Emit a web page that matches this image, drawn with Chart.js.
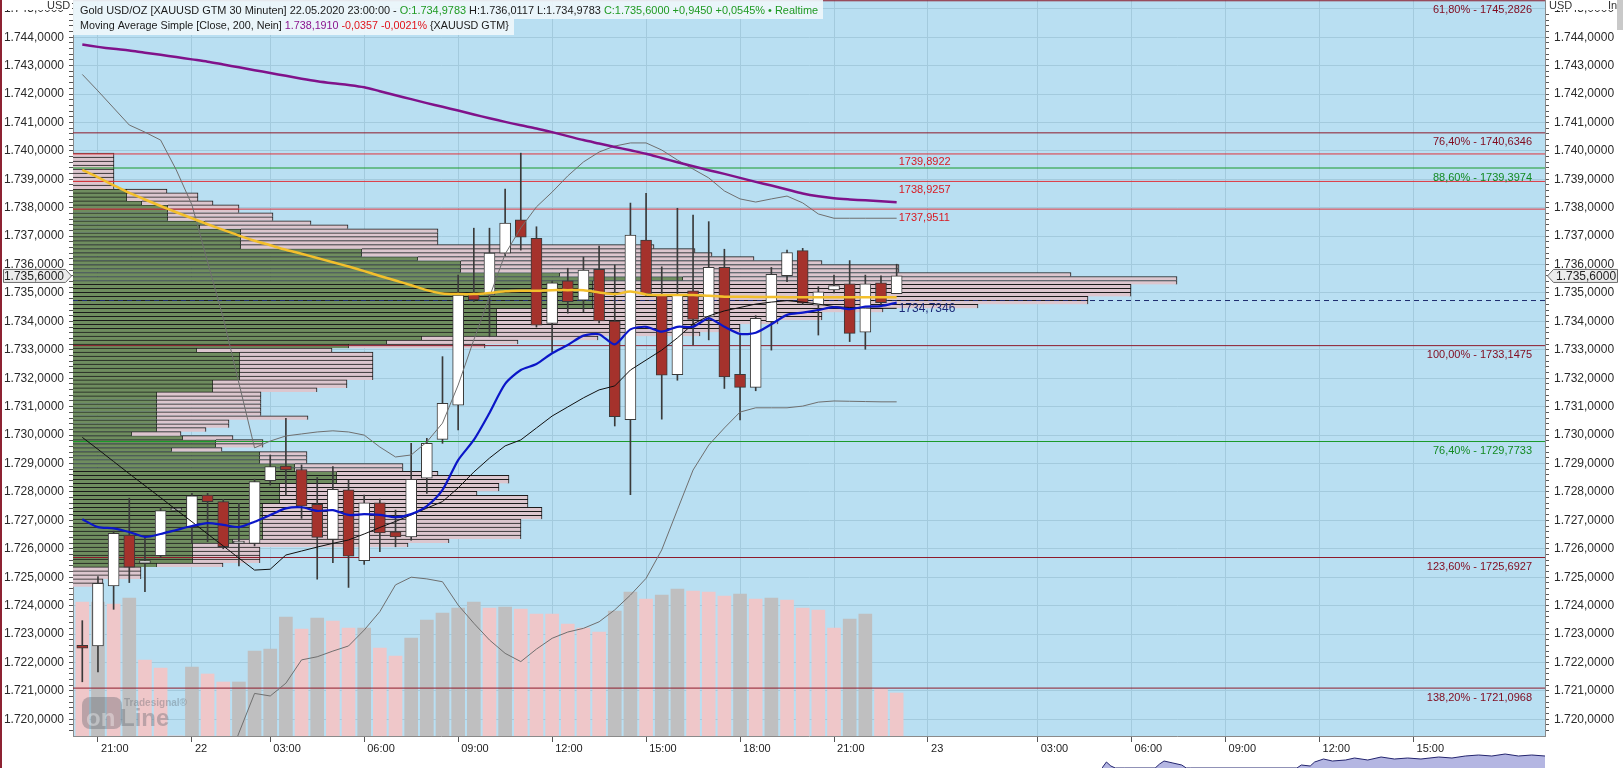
<!DOCTYPE html>
<html>
<head>
<meta charset="utf-8">
<script src="https://cdn.jsdelivr.net/npm/chart.js@4.4.1/dist/chart.umd.min.js"></script>
<style>
  html, body { margin: 0; padding: 0; background: #fff; overflow: hidden; }
  #wrap { width: 1623px; height: 768px; position: relative; }
  #navWrap { position: absolute; left: 1102px; top: 752px; width: 443px; height: 16px; }
</style>
</head>
<body>
<div id="wrap"><canvas id="chart"></canvas><div id="navWrap"><canvas id="nav"></canvas></div></div>
<script>
// 30 minute candles, index 0 = 21.05. 20:30 ... index 52 = 22.05. 23:00
const candleOpen  = [1722.60,1722.58,1724.69,1726.48,1725.49,1725.76,1727.36,1726.78,1727.89,1727.66,1726.20,1726.19,1728.40,1728.91,1728.79,1727.56,1726.33,1728.07,1725.58,1727.62,1726.60,1726.42,1728.48,1729.85,1731.05,1734.95,1734.93,1736.40,1737.57,1736.92,1733.93,1735.43,1734.75,1735.83,1734.01,1730.54,1736.86,1734.93,1732.13,1735.08,1734.16,1735.90,1732.14,1731.68,1733.99,1735.61,1736.49,1734.57,1735.11,1735.32,1733.62,1735.36,1734.9783];
const candleHigh  = [1723.47,1725.02,1726.62,1727.78,1726.42,1727.46,1727.42,1727.95,1727.95,1727.74,1727.60,1728.45,1729.30,1730.59,1728.95,1728.51,1728.89,1728.42,1727.89,1727.75,1727.36,1729.71,1729.89,1732.76,1735.63,1737.28,1737.28,1738.66,1739.92,1737.33,1735.40,1735.87,1736.26,1736.65,1735.98,1738.16,1738.51,1735.92,1737.98,1737.74,1737.51,1736.54,1733.58,1734.20,1735.90,1736.51,1736.57,1735.22,1735.63,1736.14,1735.63,1735.60,1736.0117];
const candleLow   = [1721.32,1721.67,1723.87,1724.81,1724.49,1725.70,1727.30,1726.19,1726.25,1726.00,1725.40,1726.10,1728.24,1727.89,1727.07,1724.93,1725.51,1724.64,1725.45,1725.90,1726.07,1726.30,1727.95,1729.71,1730.18,1734.70,1733.46,1736.30,1736.51,1733.80,1732.93,1734.29,1734.34,1733.95,1730.32,1727.90,1734.90,1730.56,1731.93,1733.17,1733.35,1731.64,1730.53,1731.56,1732.99,1735.40,1734.60,1733.52,1735.00,1733.29,1733.02,1734.60,1734.9783];
const candleClose = [1722.50,1724.78,1726.54,1725.35,1725.58,1727.34,1727.36,1727.86,1727.66,1726.07,1726.20,1728.36,1728.89,1728.77,1727.50,1726.40,1728.09,1725.74,1727.62,1726.56,1726.42,1728.44,1729.71,1731.12,1734.93,1734.76,1736.40,1737.46,1736.96,1733.87,1735.36,1734.69,1735.81,1734.02,1730.65,1737.04,1734.98,1732.11,1734.93,1734.07,1735.90,1732.05,1731.68,1734.11,1735.66,1736.42,1734.64,1735.04,1735.26,1733.58,1735.32,1734.655,1735.60];

const volume   = [134,134,132,138,76,68,0,69,62,54,54,85,87,119,107,118,115,108,108,88,80,98,116,123,128,134,128,129,127,122,122,112,108,104,125,144,137,141,147,145,144,140,142,137,138,136,128,126,108,117,122,47,43];
const volumeUp = [0,1,0,1,0,0,0,1,0,0,1,1,1,1,0,1,0,0,1,0,0,1,1,1,1,1,0,1,0,0,0,0,0,0,1,1,0,1,1,0,0,0,1,0,1,0,0,0,0,1,1,0,0];

const sma200 = [1743.74,1743.66,1743.59,1743.53,1743.45,1743.38,1743.30,1743.22,1743.14,1743.04,1742.94,1742.84,1742.74,1742.64,1742.54,1742.45,1742.38,1742.32,1742.24,1742.10,1741.96,1741.82,1741.68,1741.55,1741.42,1741.28,1741.15,1741.02,1740.90,1740.79,1740.66,1740.52,1740.38,1740.26,1740.14,1740.02,1739.90,1739.75,1739.60,1739.46,1739.32,1739.19,1739.05,1738.91,1738.78,1738.64,1738.50,1738.40,1738.33,1738.29,1738.26,1738.2267,1738.191];
const maSlow = [1739.33,1739.07,1738.79,1738.52,1738.29,1738.06,1737.84,1737.63,1737.42,1737.22,1737.02,1736.84,1736.68,1736.52,1736.38,1736.23,1736.08,1735.93,1735.77,1735.60,1735.44,1735.27,1735.10,1734.98,1734.96,1734.96,1735.00,1735.06,1735.08,1735.08,1735.10,1735.10,1735.10,1735.02,1734.96,1735.05,1734.95,1734.93,1734.93,1734.93,1734.90,1734.87,1734.87,1734.86,1734.86,1734.85,1734.85,1734.85,1734.85,1734.85,1734.85,1734.85,1734.85];
const maFast = [1727.04,1726.76,1726.72,1726.59,1726.42,1726.52,1726.66,1726.80,1726.90,1726.84,1726.76,1726.95,1727.19,1727.42,1727.46,1727.33,1727.36,1727.19,1727.22,1727.19,1727.11,1727.22,1727.50,1728.07,1729.12,1729.83,1730.78,1731.80,1732.29,1732.50,1732.88,1733.17,1733.50,1733.55,1733.19,1733.72,1733.81,1733.64,1733.81,1733.81,1734.11,1733.81,1733.56,1733.60,1733.90,1734.23,1734.31,1734.40,1734.50,1734.43,1734.52,1734.54,1734.66];
const bandMid = [1729.92,1729.50,1729.07,1728.64,1728.22,1727.80,1727.37,1726.95,1726.52,1726.10,1725.67,1725.25,1725.28,1725.78,1725.92,1726.06,1726.19,1726.31,1726.52,1726.75,1726.96,1727.19,1727.43,1727.66,1728.14,1728.70,1729.19,1729.62,1729.83,1730.25,1730.67,1730.99,1731.31,1731.59,1731.73,1732.29,1732.64,1732.99,1733.42,1733.91,1734.19,1734.37,1734.49,1734.61,1734.68,1734.73,1734.68,1734.61,1734.52,1734.49,1734.47,1734.46,1734.46];
const bandUpper = [1742.69,1742.11,1741.51,1740.91,1740.66,1740.38,1739.33,1738.10,1736.09,1734.12,1731.83,1729.55,1729.79,1729.97,1730.04,1730.11,1730.15,1730.11,1730.00,1729.58,1729.23,1729.30,1729.76,1730.42,1731.76,1733.35,1734.86,1736.37,1737.29,1738.03,1738.55,1739.12,1739.61,1739.96,1740.17,1740.28,1740.28,1740.03,1739.68,1739.36,1739.05,1738.59,1738.31,1738.20,1738.31,1738.41,1738.17,1737.78,1737.63,1737.63,1737.63,1737.63,1737.63];
const bandLower = [1717.15,1716.89,1716.63,1716.38,1715.78,1715.21,1715.42,1715.80,1716.96,1718.08,1719.52,1720.91,1720.82,1721.27,1722.09,1722.20,1722.40,1722.58,1723.14,1723.79,1724.73,1725.00,1724.94,1724.84,1724.02,1723.38,1722.79,1722.32,1722.03,1722.47,1722.85,1723.07,1723.20,1723.43,1723.85,1724.37,1724.96,1725.96,1727.37,1728.77,1729.65,1730.25,1730.81,1730.96,1730.96,1730.96,1731.02,1731.16,1731.20,1731.19,1731.18,1731.17,1731.17];

// volume profile rows (price level, buy part, total)
const profileLevel = [1739.85,1739.71,1739.57,1739.43,1739.29,1739.15,1739.01,1738.87,1738.73,1738.59,1738.45,1738.31,1738.17,1738.03,1737.89,1737.75,1737.61,1737.47,1737.33,1737.19,1737.05,1736.91,1736.77,1736.63,1736.49,1736.35,1736.21,1736.07,1735.93,1735.79,1735.65,1735.51,1735.37,1735.23,1735.09,1734.95,1734.81,1734.67,1734.53,1734.39,1734.25,1734.11,1733.97,1733.83,1733.69,1733.55,1733.41,1733.27,1733.13,1732.99,1732.85,1732.71,1732.57,1732.43,1732.29,1732.15,1732.01,1731.87,1731.73,1731.59,1731.45,1731.31,1731.17,1731.03,1730.89,1730.75,1730.61,1730.47,1730.33,1730.19,1730.05,1729.91,1729.77,1729.63,1729.49,1729.35,1729.21,1729.07,1728.93,1728.79,1728.65,1728.51,1728.37,1728.23,1728.09,1727.95,1727.81,1727.67,1727.53,1727.39,1727.25,1727.11,1726.97,1726.83,1726.69,1726.55,1726.41,1726.27,1726.13,1725.99,1725.85,1725.71,1725.57,1725.43,1725.29,1725.15,1725.01,1724.87,1724.73];
const profileGreen = [0,0,0,0,0,0,0,0,0,54,54,54,69,95,95,95,95,132,127,168,168,168,168,168,289,289,345,388,388,388,487,610,520,520,520,520,520,520,520,424,424,424,424,424,424,424,349,314,276,124,167,167,167,167,167,167,167,140,140,140,84,84,84,84,84,84,84,84,84,84,59,110,143,143,99,187,187,187,222,222,264,264,264,207,207,207,207,207,190,190,190,190,190,190,190,190,190,160,120,120,120,120,120,84,0,0,0,0,0];
const profileTotal = [41,41,41,41,41,41,41,41,41,94,125,125,140,166,166,200,200,238,275,365,365,365,365,581,622,639,681,749,826,826,998,1104,1104,1058,1058,1058,1015,1015,905,810,749,749,705,667,667,627,525,445,412,259,300,300,300,300,300,300,300,274,274,244,188,188,188,188,188,188,235,156,156,133,108,160,190,190,149,234,234,234,330,330,365,436,436,426,426,404,455,455,455,469,469,469,448,448,448,448,448,376,335,187,187,187,187,150,68,68,68,30,30];

// fibonacci and marker levels
const fibPct    = [61.8, 76.4, 88.6, 100, 76.4, 123.6, 138.2];
const fibLevel  = [1745.2826, 1740.6346, 1739.3974, 1733.1475, 1729.7733, 1725.6927, 1721.0968];
const markLevel = [1739.8922, 1738.9257, 1737.9511];
const pocLevel  = 1734.7346;

// time axis
const xTickIdx    = [1, 7, 12, 18, 24, 30, 36, 42, 48, 54, 61, 67, 73, 79, 85];
const xTickLabels = ['21:00', '22', '03:00', '06:00', '09:00', '12:00', '15:00', '18:00', '21:00', '23', '03:00', '06:00', '09:00', '12:00', '15:00'];
const yTickLabels = [1720, 1721, 1722, 1723, 1724, 1725, 1726, 1727, 1728, 1729, 1730, 1731, 1732, 1733, 1734, 1735, 1736, 1737, 1738, 1739, 1740, 1741, 1742, 1743, 1744, 1745];

// overview strip under the time axis (position along strip, height)
const navPos = [0, 1, 2, 3, 5, 12, 13, 14, 16, 18, 19, 20, 44, 45, 47, 48, 50, 52, 55, 57, 60, 63, 66, 69, 72, 76, 79, 82, 85, 88, 91, 94, 97, 100];
const navVal = [0, 6, 2, 0, 0, 0, 4, 7, 5, 3, 0, 0, 0, 3, 2, 6, 9, 7, 8, 10, 8, 11, 9, 10, 9, 11, 10, 12, 13, 12, 14, 12, 13, 12];

const X_MIN = -0.594, X_MAX = 93.40, Y_MIN = 1719.412, Y_MAX = 1745.309;
const FIB_COLORS = ['#8e1b2b', '#8e1b2b', '#1b9a2b', '#8e1b2b', '#1b9a2b', '#8e1b2b', '#8e1b2b'];
const FONT = 'Liberation Sans';

const idx = candleOpen.map((_, i) => i);
const last = candleOpen.length - 1;

function fmtDe(v, d = 4) {
  const p = Math.abs(v).toFixed(d).split('.');
  return (v < 0 ? '-' : '') + p[0].replace(/\B(?=(\d{3})+(?!\d))/g, '.') + ',' + p[1];
}
function fmtPlain(v, d = 4) { return v.toFixed(d).replace('.', ','); }
function signed(v, d = 4) { return (v >= 0 ? '+' : '') + fmtDe(v, d); }
function isMajor(v) { return Math.abs(v - Math.round(v)) < 1e-6; }

const yMinor = [];
for (let k = 0; k <= 128; k++) yMinor.push(Math.round((1719.6 + k * 0.2) * 10) / 10);

function series(arr) { return idx.map(i => ({ x: i, y: arr[i] })); }
function hline(level) { return [{ x: X_MIN, y: level }, { x: X_MAX, y: level }]; }
function lineDs(data, color, width, order, tension = 0, dash = []) {
  return { type: 'line', data, borderColor: color, borderWidth: width, pointRadius: 0, tension, borderDash: dash, order, xAxisID: 'x', yAxisID: 'y' };
}

const datasets = [];
// volume profile (horizontal bars)
datasets.push({
  type: 'bar', indexAxis: 'y', xAxisID: 'xp', yAxisID: 'y', order: 92, grouped: false, barThickness: 4,
  data: profileLevel.map((p, i) => ({ y: p, x: profileGreen[i] > 0 ? [0, profileGreen[i]] : null })),
  backgroundColor: '#6f8d5f', borderColor: '#1b1b1b', borderWidth: { top: 1, right: 1, bottom: 0, left: 0 }, borderSkipped: false
});
datasets.push({
  type: 'bar', indexAxis: 'y', xAxisID: 'xp', yAxisID: 'y', order: 91, grouped: false, barThickness: 4,
  data: profileLevel.map((p, i) => ({ y: p, x: [profileGreen[i], profileTotal[i]] })),
  backgroundColor: '#dcc6ce', borderColor: '#1b1b1b', borderWidth: { top: 1, right: 1, bottom: 0, left: 0 }, borderSkipped: false
});
// volume bars
datasets.push({
  type: 'bar', xAxisID: 'x', yAxisID: 'yv', order: 85, grouped: false, barThickness: 13,
  data: idx.map(i => ({ x: i, y: volume[i] })),
  backgroundColor: idx.map(i => volumeUp[i] ? '#bfbfc0' : '#efc7c9')
});
// fib + marker lines
fibLevel.forEach((lv, i) => datasets.push(lineDs(hline(lv), FIB_COLORS[i], 1, 70)));
markLevel.forEach(lv => datasets.push(lineDs(hline(lv), '#e0343c', 1, 70)));
datasets.push(lineDs(hline(pocLevel), '#1d2b6e', 1, 70, 0, [5, 4]));
// candles
datasets.push({
  type: 'bar', xAxisID: 'x', yAxisID: 'y', order: 55, grouped: false, barThickness: 1,
  data: idx.map(i => ({ x: i, y: [candleLow[i], candleHigh[i]] })), backgroundColor: '#3a3a3a'
});
datasets.push({
  type: 'bar', xAxisID: 'x', yAxisID: 'y', order: 54, grouped: false, barThickness: 11, minBarLength: 2,
  data: idx.map(i => ({ x: i, y: [candleOpen[i], candleClose[i]] })),
  backgroundColor: idx.map(i => candleClose[i] >= candleOpen[i] ? '#ffffff' : '#a5322c'),
  borderColor: '#3a3a3a', borderWidth: 1, borderSkipped: false
});
// indicators
datasets.push(lineDs(series(bandUpper), '#6f6f6f', 1, 40));
datasets.push(lineDs(series(bandLower), '#6f6f6f', 1, 40));
datasets.push(lineDs(series(bandMid), '#101010', 1, 38));
datasets.push(lineDs(series(maSlow), '#f3bf2c', 2.5, 36, 0.3));
datasets.push(lineDs(series(maFast), '#0b16c8', 2.2, 34, 0.25));
datasets.push(lineDs(series(sma200), '#80128a', 2.5, 32, 0.3));

function drawSegs(ctx, x, y, segs, width) {
  ctx.font = '11px "' + FONT + '"';
  const total = segs.reduce((s, g) => s + ctx.measureText(g[0]).width, 0);
  const size = 11 * width / total;
  ctx.font = size.toFixed(2) + 'px "' + FONT + '"';
  ctx.textBaseline = 'middle';
  ctx.textAlign = 'left';
  segs.forEach(g => { ctx.fillStyle = g[1]; ctx.fillText(g[0], x, y); x += ctx.measureText(g[0]).width; });
}

const overlay = {
  id: 'overlay',
  beforeDraw(chart) {
    const { ctx, chartArea: a } = chart;
    ctx.save();
    ctx.fillStyle = '#ffffff';
    ctx.fillRect(0, 0, chart.width, chart.height);
    ctx.fillStyle = '#b9dff2';
    ctx.fillRect(a.left, a.top, a.right - a.left, a.bottom - a.top);
    ctx.restore();
  },
  afterDatasetsDraw(chart) {
    const { ctx, chartArea: a, scales } = chart;
    const y = scales.y, x = scales.x;
    ctx.save();
    // watermark
    ctx.globalAlpha = 0.35;
    ctx.fillStyle = '#5a5f66';
    ctx.beginPath(); ctx.roundRect(82, 697, 40, 32, 8); ctx.fill();
    ctx.font = 'bold 24px "' + FONT + '"';
    ctx.textBaseline = 'alphabetic'; ctx.textAlign = 'left';
    ctx.fillStyle = '#ffffff'; ctx.fillText('on', 86, 726);
    ctx.fillStyle = '#5a5f66'; ctx.fillText('Line', 120, 726);
    ctx.font = 'bold 10px "' + FONT + '"';
    ctx.fillText('Tradesignal\u00ae', 124, 706);
    ctx.globalAlpha = 1;

    // fib labels
    ctx.font = '11px "' + FONT + '"';
    ctx.textAlign = 'right'; ctx.textBaseline = 'top';
    fibLevel.forEach((lv, i) => {
      ctx.fillStyle = FIB_COLORS[i] === '#1b9a2b' ? '#128a22' : '#800a1e';
      ctx.fillText(fmtPlain(fibPct[i], 2) + '% - ' + fmtPlain(lv), 1532, y.getPixelForValue(lv) + 4);
    });
    const lx = x.getPixelForValue(last) + 2;
    ctx.textAlign = 'left';
    ctx.fillStyle = '#d81a22';
    markLevel.forEach(lv => ctx.fillText(fmtPlain(lv), lx, y.getPixelForValue(lv) + 3));
    ctx.font = '12px "' + FONT + '"';
    ctx.fillStyle = '#1d2b78';
    ctx.fillText(fmtPlain(pocLevel), lx, y.getPixelForValue(pocLevel) + 2);

    // header
    const O = candleOpen[last], H = candleHigh[last], L = candleLow[last], C = candleClose[last];
    const chg = C - candleClose[last - 1];
    const smaChg = sma200[last] - sma200[last - 1];
    ctx.fillStyle = 'rgba(238,246,251,0.92)';
    ctx.fillRect(a.left, 0, 750, 19);
    ctx.fillRect(a.left, 19, 441, 16);
    drawSegs(ctx, 80, 10.5, [
      ['Gold USD/OZ [XAUUSD GTM 30 Minuten] 22.05.2020 23:00:00 - ', '#1a1a1a'],
      ['O:' + fmtDe(O) + ' ', '#1f9a22'],
      ['H:' + fmtDe(H) + ' L:' + fmtDe(L) + ' ', '#1a1a1a'],
      ['C:' + fmtDe(C) + ' ' + signed(chg) + ' ' + signed(chg / candleClose[last - 1] * 100) + '% \u2022 Realtime', '#1f9a22']
    ], 738);
    drawSegs(ctx, 80, 26.5, [
      ['Moving Average Simple [Close, 200, Nein] ', '#1a1a1a'],
      [fmtDe(sma200[last]) + ' ', '#8a168e'],
      [signed(smaChg) + ' ' + signed(smaChg / sma200[last - 1] * 100) + '% ', '#e0141c'],
      ['{XAUUSD GTM}', '#1a1a1a']
    ], 429);
    ctx.restore();
  },
  afterDraw(chart) {
    const { ctx, scales } = chart;
    const yc = scales.y.getPixelForValue(candleClose[last]);
    const txt = fmtDe(candleClose[last]);
    ctx.save();
    // caption band at the top of both price axes
    ctx.fillStyle = '#ffffff';
    ctx.fillRect(2, 0, 70, 10); ctx.fillRect(1546, 0, 77, 10);
    ctx.font = '12px "' + FONT + '"';
    ctx.textBaseline = 'middle';
    ctx.lineWidth = 1;
    // right price box
    ctx.beginPath();
    ctx.moveTo(1547.5, yc); ctx.lineTo(1553.5, yc - 6.5); ctx.lineTo(1617.5, yc - 6.5);
    ctx.lineTo(1617.5, yc + 6.5); ctx.lineTo(1553.5, yc + 6.5); ctx.closePath();
    ctx.fillStyle = '#ececec'; ctx.fill(); ctx.strokeStyle = '#6a6a6a'; ctx.stroke();
    ctx.fillStyle = '#222'; ctx.textAlign = 'left'; ctx.fillText(txt, 1556, yc + 0.5);
    // left price box
    ctx.beginPath();
    ctx.moveTo(71.5, yc); ctx.lineTo(65.5, yc - 6.5); ctx.lineTo(3.5, yc - 6.5);
    ctx.lineTo(3.5, yc + 6.5); ctx.lineTo(65.5, yc + 6.5); ctx.closePath();
    ctx.fillStyle = '#ececec'; ctx.fill(); ctx.strokeStyle = '#6a6a6a'; ctx.stroke();
    ctx.fillStyle = '#222'; ctx.textAlign = 'right'; ctx.fillText(txt, 64, yc + 0.5);
    // axis captions
    ctx.font = '11px "' + FONT + '"';
    ctx.textBaseline = 'top';
    ctx.fillStyle = '#333';
    ctx.textAlign = 'left';
    ctx.fillText('USD', 47, 0); ctx.fillText('USD', 1549, 0); ctx.fillText('In', 1608, 0);
    ctx.fillStyle = '#c9c9c9'; ctx.fillRect(1617, 0, 6, 30);
    ctx.fillStyle = '#8d2232'; ctx.fillRect(0, 0, 2, chart.height);
    ctx.restore();
  }
};

const yAxisBase = (pos, width) => ({
  type: 'linear', position: pos, min: Y_MIN, max: Y_MAX, offset: false, beginAtZero: false,
  afterBuildTicks: s => { s.ticks = yMinor.map(v => ({ value: v })); },
  afterFit: s => { s.width = width; s.paddingTop = 0; s.paddingBottom = 0; },
  grid: {
    offset: false, drawOnChartArea: pos === 'left', tickLength: 4, tickColor: '#555',
    color: c => (c.tick && isMajor(c.tick.value)) ? '#a3cadd' : 'rgba(0,0,0,0)'
  },
  border: { color: '#8a8a8a' },
  ticks: {
    autoSkip: false, padding: 5, color: '#2a2a2a', font: { family: FONT, size: 12 },
    callback: v => (isMajor(v) && yTickLabels.includes(Math.round(v))) ? fmtDe(Math.round(v)) : ''
  }
});

new Chart(document.getElementById('chart'), {
  type: 'bar',
  data: { datasets },
  options: {
    responsive: true, maintainAspectRatio: false, animation: false,
    layout: { padding: 0 },
    plugins: { legend: { display: false }, tooltip: { enabled: false } },
    scales: {
      x: {
        type: 'linear', position: 'bottom', min: X_MIN, max: X_MAX, offset: false,
        afterBuildTicks: s => { s.ticks = xTickIdx.map(v => ({ value: v })); },
        afterFit: s => { s.height = 32; s.paddingLeft = 0; s.paddingRight = 0; },
        grid: { offset: false, color: '#a3cadd', tickLength: 6, tickColor: '#555' },
        border: { color: '#8a8a8a' },
        ticks: { autoSkip: false, maxRotation: 0, align: 'start', padding: 0, color: '#222', font: { family: FONT, size: 11 },
          callback: (v, i) => ' ' + xTickLabels[i] }
      },
      y: yAxisBase('left', 73),
      y2: yAxisBase('right', 78),
      xp: { type: 'linear', axis: 'x', display: false, min: 0, max: 1472, offset: false, grid: { offset: false } },
      yv: { type: 'linear', axis: 'y', display: false, min: 0, max: 736, offset: false, beginAtZero: true }
    }
  },
  plugins: [overlay]
});

// small overview strip
new Chart(document.getElementById('nav'), {
  type: 'line',
  data: { datasets: [{
    data: navPos.map((p, i) => ({ x: p, y: navVal[i] })),
    borderColor: '#23246e', borderWidth: 1, backgroundColor: '#b4b6e2', fill: 'origin', pointRadius: 0, tension: 0
  }] },
  options: {
    responsive: true, maintainAspectRatio: false, animation: false,
    layout: { padding: 0 },
    plugins: { legend: { display: false }, tooltip: { enabled: false } },
    scales: {
      x: { type: 'linear', display: false, min: 0, max: 100 },
      y: { type: 'linear', display: false, min: 0, max: 16 }
    }
  }
});
</script>
</body>
</html>
